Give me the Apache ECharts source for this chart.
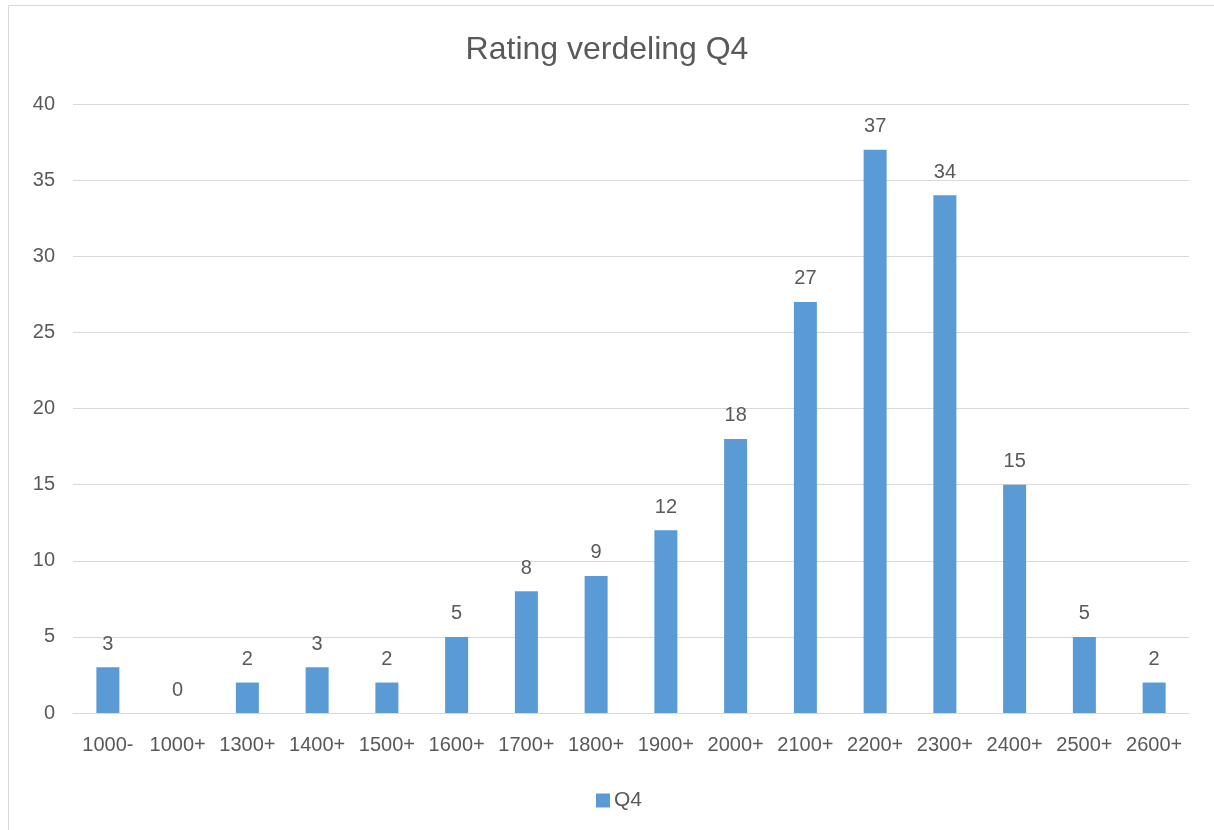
<!DOCTYPE html>
<html>
<head>
<meta charset="utf-8">
<script src="https://cdn.jsdelivr.net/npm/echarts@6/dist/echarts.min.js"></script>
<style>
  html, body { margin: 0; padding: 0; width: 1214px; height: 830px; overflow: hidden; background: #fff; }
  .frame { position: absolute; left: 8px; top: 5px; width: 1300px; height: 900px; border: 1px solid #d9d9d9; box-sizing: border-box; }
  #canvas-dom { position: absolute; left: 0; top: 0; width: 1214px; height: 830px; }
</style>
</head>
<body>
<div class="frame"></div>
<div id="canvas-dom"></div>
<script>
const categories = ["1000-", "1000+", "1300+", "1400+", "1500+", "1600+", "1700+", "1800+",
  "1900+", "2000+", "2100+", "2200+", "2300+", "2400+", "2500+", "2600+"];
const q4Values = [3, 0, 2, 3, 2, 5, 8, 9, 12, 18, 27, 37, 34, 15, 5, 2];

const textColor = "#595959";
const fontFamily = "Liberation Sans, Arial, sans-serif";

const chart = echarts.init(document.getElementById("canvas-dom"));
const option = {
  animation: false,
  textStyle: { fontFamily: fontFamily },
  title: {
    text: "Rating verdeling Q4",
    left: "center",
    top: 29,
    textStyle: { color: textColor, fontSize: 32, fontWeight: "normal", fontFamily: fontFamily },
  },
  legend: {
    data: ["Q4"],
    left: 596,
    top: 790,
    padding: 0,
    itemWidth: 14,
    itemHeight: 14,
    icon: "rect",
    textStyle: { color: textColor, fontSize: 21, fontFamily: fontFamily, padding: [0, 0, 0, -1] },
  },
  grid: { left: 73, right: 25, top: 104, bottom: 117, containLabel: false },
  xAxis: {
    type: "category",
    data: categories,
    axisLine: { lineStyle: { color: "#d9d9d9", width: 1 } },
    axisTick: { show: false },
    axisLabel: { color: textColor, fontSize: 20, margin: 22, interval: 0 },
  },
  yAxis: {
    type: "value",
    min: 0,
    max: 40,
    interval: 5,
    axisLine: { show: false },
    axisTick: { show: false },
    axisLabel: { color: textColor, fontSize: 20, margin: 18 },
    splitLine: { lineStyle: { color: "#d9d9d9", width: 1 } },
  },
  series: [
    {
      name: "Q4",
      type: "bar",
      data: q4Values,
      barWidth: 23,
      itemStyle: { color: "#5b9bd5" },
      label: {
        show: true,
        position: "top",
        distance: 13,
        color: textColor,
        fontSize: 20,
        fontFamily: fontFamily,
      },
    },
  ],
};
chart.setOption(option);
</script>
</body>
</html>
